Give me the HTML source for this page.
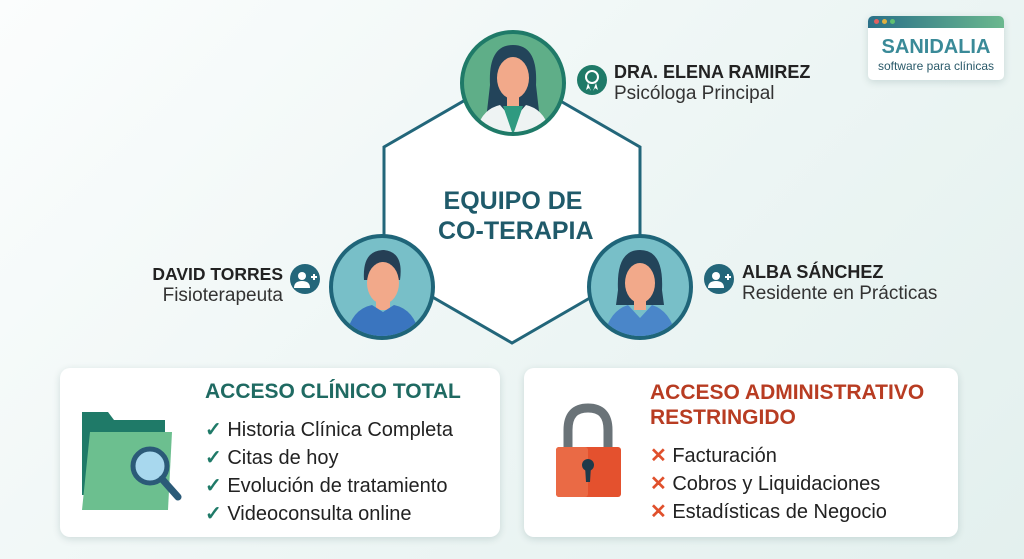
<!DOCTYPE html>
<html><head><meta charset="utf-8"><style>
body{margin:0;width:1024px;height:559px;overflow:hidden;background:linear-gradient(135deg,#fbfdfd 0%,#eef6f5 50%,#e3f0ee 100%);font-family:"Liberation Sans",sans-serif;position:relative}
.t{position:absolute;white-space:nowrap;z-index:3}
.card{position:absolute;background:#fff;border-radius:10px;box-shadow:0 2px 8px rgba(0,60,60,.15);z-index:0}
svg{z-index:1}
</style></head><body>
<div class="card" style="left:60px;top:368px;width:440px;height:169px"></div>
<div class="card" style="left:524px;top:368px;width:434px;height:169px"></div>
<svg width="1024" height="559" style="position:absolute;left:0;top:0">
<polygon points="512,73 640,147 640,269 512,343 384,269 384,147" fill="#fff" stroke="#22667a" stroke-width="3"/>
<circle cx="513" cy="83" r="51" fill="#5fae88" stroke="#1f7a68" stroke-width="4"/>
<clipPath id="c1"><circle cx="513" cy="83" r="49"/></clipPath>
<g clip-path="url(#c1)">
<path d="M490 85 Q488 45 513 45 Q538 45 536 85 L540 120 L486 120Z" fill="#23445a"/>
<ellipse cx="513" cy="78" rx="16" ry="21" fill="#f2a98a"/>
<rect x="507" y="94" width="12" height="14" fill="#f2a98a"/>
<path d="M475 140 Q478 110 500 105 L513 120 L526 105 Q548 110 551 140Z" fill="#eef3f3"/>
<path d="M503 106 L513 135 L523 106Z" fill="#2f9a80"/>
</g>
<circle cx="382" cy="287" r="51" fill="#78bfc8" stroke="#1f6579" stroke-width="4"/>
<clipPath id="c2"><circle cx="382" cy="287" r="49"/></clipPath>
<g clip-path="url(#c2)">
<path d="M364 280 Q362 250 384 250 Q404 252 400 280Z" fill="#253f55"/>
<ellipse cx="383" cy="283" rx="16" ry="21" fill="#f2a98a"/>
<rect x="376" y="298" width="14" height="12" fill="#f2a98a"/>
<path d="M345 345 Q348 310 372 305 L383 312 L394 305 Q418 310 421 345Z" fill="#3a75bf"/>
</g>
<circle cx="640" cy="287" r="51" fill="#78bfc8" stroke="#1f6579" stroke-width="4"/>
<clipPath id="c3"><circle cx="640" cy="287" r="49"/></clipPath>
<g clip-path="url(#c3)">
<path d="M618 290 Q616 250 640 250 Q664 250 662 290 L664 305 L616 305Z" fill="#23445a"/>
<ellipse cx="640" cy="283" rx="15" ry="20" fill="#f2a98a"/>
<rect x="634" y="298" width="12" height="12" fill="#f2a98a"/>
<path d="M603 345 Q606 312 628 305 L640 318 L652 305 Q674 312 677 345Z" fill="#4a86c9"/>
</g>
<circle cx="592" cy="80" r="15" fill="#1f7a68"/>
<circle cx="592" cy="77" r="6" fill="none" stroke="#fff" stroke-width="2"/>
<path d="M588 83 L586 90 L589 88 L591 91Z M596 83 L598 90 L595 88 L593 91Z" fill="#fff"/>
<g fill="#fff">
<circle cx="305" cy="279" r="15" fill="#23667a"/><circle cx="302" cy="276" r="4"/><path d="M294 288 Q294 281 302 281 Q310 281 310 288Z"/><path d="M311 277h6M314 274v6" stroke="#fff" stroke-width="2"/>
<circle cx="719" cy="279" r="15" fill="#23667a"/><circle cx="716" cy="276" r="4"/><path d="M708 288 Q708 281 716 281 Q724 281 724 288Z"/><path d="M725 277h6M728 274v6" stroke="#fff" stroke-width="2"/>
</g>
<path d="M82 412 L108 412 L114 420 L165 420 L165 495 L82 495Z" fill="#1f7a68"/>
<path d="M90 432 L172 432 L168 510 L82 510Z" fill="#6cbf8f"/>
<circle cx="150" cy="466" r="17" fill="#a8d8ee" stroke="#2b5a78" stroke-width="5"/>
<line x1="162" y1="479" x2="178" y2="497" stroke="#2b5a78" stroke-width="7" stroke-linecap="round"/>
<path d="M568 450 L568 430 Q568 408 588 408 Q608 408 608 430 L608 450" fill="none" stroke="#6a7378" stroke-width="9"/>
<rect x="556" y="447" width="65" height="50" rx="3" fill="#e4512e"/>
<rect x="556" y="447" width="32" height="50" rx="3" fill="#ea6a45"/>
<circle cx="588" cy="465" r="6" fill="#1f3a4a"/><path d="M585 466 L591 466 L590 482 L586 482Z" fill="#1f3a4a"/>
</svg>
<div class="t" style="left:438px;top:186px;width:150px;text-align:center;font-size:25px;font-weight:bold;color:#1f5a6a;line-height:30px">EQUIPO DE<br>CO-TERAPIA</div>
<div class="t" style="left:614px;top:62px;font-size:18px;font-weight:bold;color:#222">DRA. ELENA RAMIREZ</div>
<div class="t" style="left:614px;top:83px;font-size:19px;color:#333">Psicóloga Principal</div>
<div class="t" style="left:133px;width:150px;text-align:right;top:264px;font-size:17.5px;font-weight:bold;color:#222">DAVID TORRES</div>
<div class="t" style="left:133px;width:150px;text-align:right;top:285px;font-size:19px;color:#333">Fisioterapeuta</div>
<div class="t" style="left:742px;top:262px;font-size:18px;font-weight:bold;color:#222">ALBA SÁNCHEZ</div>
<div class="t" style="left:742px;top:283px;font-size:19px;color:#333">Residente en Prácticas</div>
<div class="card" style="left:868px;top:16px;width:136px;height:64px;border-radius:5px;overflow:hidden">
<div style="height:12px;background:linear-gradient(90deg,#2a7088,#6bb88e)"></div>
<div style="position:absolute;left:6px;top:3px;width:5px;height:5px;border-radius:50%;background:#e06060"></div>
<div style="position:absolute;left:14px;top:3px;width:5px;height:5px;border-radius:50%;background:#e0b040"></div>
<div style="position:absolute;left:22px;top:3px;width:5px;height:5px;border-radius:50%;background:#60c070"></div>
<div class="t" style="left:0;width:136px;text-align:center;top:20px;font-size:20px;font-weight:bold;color:#3a8a98">SANIDALIA</div>
<div class="t" style="left:0;width:136px;text-align:center;top:43px;font-size:12px;color:#2a5a6a">software para clínicas</div>
</div>
<div class="t" style="left:205px;top:380px;font-size:21px;font-weight:bold;color:#1f6a62">ACCESO CLÍNICO TOTAL</div>
<div class="t" style="left:205px;top:416px;font-size:20px;line-height:28px;color:#222"><span style="color:#1f7a68;font-weight:bold">✓</span> Historia Clínica Completa<br><span style="color:#1f7a68;font-weight:bold">✓</span> Citas de hoy<br><span style="color:#1f7a68;font-weight:bold">✓</span> Evolución de tratamiento<br><span style="color:#1f7a68;font-weight:bold">✓</span> Videoconsulta online</div>
<div class="t" style="left:650px;top:380px;font-size:21px;font-weight:bold;color:#b83c22;line-height:25px">ACCESO ADMINISTRATIVO<br>RESTRINGIDO</div>
<div class="t" style="left:650px;top:442px;font-size:20px;line-height:28px;color:#222"><span style="color:#e0502c;font-weight:bold">✕</span> Facturación<br><span style="color:#e0502c;font-weight:bold">✕</span> Cobros y Liquidaciones<br><span style="color:#e0502c;font-weight:bold">✕</span> Estadísticas de Negocio</div>
</body></html>
